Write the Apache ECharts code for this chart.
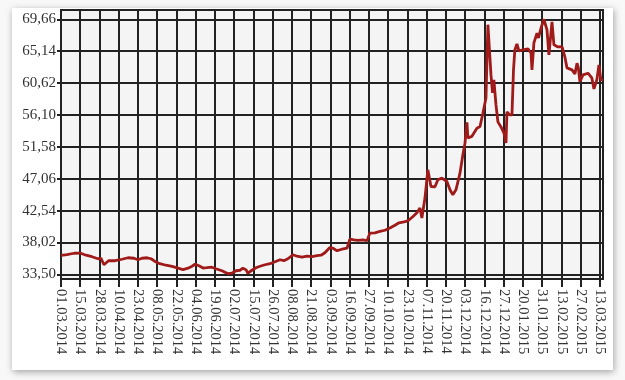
<!DOCTYPE html>
<html>
<head>
<meta charset="utf-8">
<script src="https://cdn.jsdelivr.net/npm/echarts@6/dist/echarts.min.js"></script>
<style>
html,body{margin:0;padding:0;background:#f8f8f8;}
#chart{width:625px;height:380px;}
</style>
</head>
<body>
<div id="chart"></div>
<script>
// X tick labels (one per grid column, trading-day spaced)
var xLabels = ['01.03.2014','15.03.2014','28.03.2014','10.04.2014','23.04.2014','08.05.2014','22.05.2014','04.06.2014','19.06.2014','02.07.2014','15.07.2014','26.07.2014','08.08.2014','21.08.2014','03.09.2014','16.09.2014','27.09.2014','10.10.2014','23.10.2014','07.11.2014','20.11.2014','03.12.2014','16.12.2014','27.12.2014','20.01.2015','31.01.2015','13.02.2015','27.02.2015','13.03.2015'];
// Y tick values
var yTicks = [33.50, 38.02, 42.54, 47.06, 51.58, 56.10, 60.62, 65.14, 69.66];
// Position of each point in units of x tick columns
var xPos = [0,0.31,0.68,0.99,1.30,1.61,1.92,2.08,2.23,2.47,2.81,3.17,3.48,3.79,4.00,4.21,4.47,4.68,4.88,5.14,5.45,5.77,6.08,6.34,6.60,6.81,6.96,7.17,7.38,7.58,7.84,8.05,8.36,8.68,8.88,9.09,9.30,9.45,9.61,9.71,9.92,10.13,10.34,10.60,10.86,11.12,11.38,11.58,11.79,12.05,12.26,12.52,12.78,13.04,13.30,13.51,13.71,13.97,14.13,14.34,14.60,14.86,15.01,15.22,15.43,15.69,15.90,16.05,16.31,16.57,16.83,17.09,17.35,17.56,17.82,18.03,18.29,18.49,18.65,18.75,18.91,19.06,19.22,19.43,19.58,19.79,20.05,20.21,20.36,20.52,20.73,20.88,20.99,21.09,21.14,21.35,21.61,21.77,21.92,22.08,22.18,22.34,22.42,22.49,22.60,22.70,22.86,23.01,23.12,23.17,23.32,23.43,23.51,23.58,23.69,23.79,24.00,24.26,24.42,24.47,24.57,24.73,24.81,24.94,25.09,25.25,25.35,25.51,25.61,25.82,26.03,26.18,26.29,26.55,26.70,26.81,26.88,26.96,27.12,27.38,27.58,27.69,27.84,27.95,28.05,28.16];
// Exchange rate values
var rates = [36.19,36.29,36.50,36.53,36.22,36.01,35.72,35.79,34.87,35.44,35.44,35.65,35.86,35.79,35.58,35.79,35.86,35.72,35.34,35.02,34.80,34.63,34.38,34.17,34.38,34.66,34.94,34.73,34.41,34.45,34.52,34.31,34.02,33.60,33.67,34.02,34.09,34.38,34.17,33.67,34.09,34.45,34.66,34.87,35.02,35.30,35.58,35.44,35.72,36.29,36.08,35.94,36.08,36.01,36.15,36.22,36.57,37.32,37.21,36.86,37.07,37.21,38.51,38.41,38.34,38.41,38.27,39.36,39.40,39.59,39.76,40.07,40.47,40.82,40.96,41.10,41.71,42.24,42.90,41.49,44.32,48.33,45.96,45.92,46.91,47.15,46.67,45.49,44.79,45.49,47.86,50.45,52.11,55.05,52.86,53.07,54.23,54.46,56.35,58.52,68.90,61.78,59.23,61.07,57.53,55.12,54.41,53.57,52.15,56.54,56.11,56.11,62.49,65.32,66.17,65.18,65.32,65.46,64.89,62.49,66.31,67.68,67.02,68.43,69.66,68.15,64.61,69.30,66.05,65.74,65.79,64.33,62.77,62.49,61.92,63.43,62.77,60.83,61.78,62.02,61.35,59.80,61.07,63.19,61.07,61.07];

var xTickIdx = xLabels.map(function(_, i){ return i; });
var seriesData = xPos.map(function(x, i){ return [x, rates[i]]; });

var chart = echarts.init(document.getElementById('chart'), null, {renderer:'canvas'});
var fontFam = '"Liberation Serif", "DejaVu Serif", serif';
chart.setOption({
  backgroundColor: '#f8f8f8',
  animation: false,
  graphic: [{
    type: 'rect',
    shape: {x: 12, y: 8, width: 601, height: 362},
    style: {fill: '#ffffff', shadowBlur: 7, shadowColor: 'rgba(0,0,0,0.35)', shadowOffsetX: 1, shadowOffsetY: 2},
    z: -10, silent: true
  }],
  grid: {
    left: 61, right: 22, top: 10, bottom: 101,
    show: true, backgroundColor: '#f4f4f4', borderColor: '#222', borderWidth: 2
  },
  xAxis: {
    type: 'value', min: 0, max: 28.16,
    axisLine: {show: true, lineStyle: {color: '#222', width: 2}},
    axisTick: {show: true, length: 8, customValues: xTickIdx, lineStyle: {color: '#222', width: 2}},
    splitLine: {show: true, lineStyle: {color: '#222', width: 2}},
    axisLabel: {
      customValues: xTickIdx, rotate: -90, margin: 10,
      fontFamily: fontFam, fontSize: 14.5, color: '#333',
      formatter: function(v){ var i = Math.round(v); return xLabels[i] || ''; }
    }
  },
  yAxis: {
    type: 'value', min: 32.85, max: 70.98,
    axisLine: {show: true, lineStyle: {color: '#222', width: 2}},
    axisTick: {show: true, length: 4, customValues: yTicks, lineStyle: {color: '#222', width: 2}},
    splitLine: {show: true, lineStyle: {color: '#222', width: 2}},
    axisLabel: {
      customValues: yTicks, margin: 5,
      fontFamily: fontFam, fontSize: 15, color: '#333',
      formatter: function(v){ return v.toFixed(2).replace('.', ','); }
    }
  },
  series: [{
    type: 'line', data: seriesData, showSymbol: false, symbol: 'none',
    lineStyle: {color: '#a01a1a', width: 2.8}, itemStyle: {color: '#a01a1a'}
  }]
});
</script>
</body>
</html>
